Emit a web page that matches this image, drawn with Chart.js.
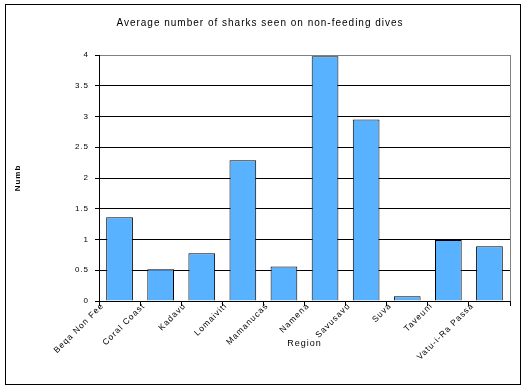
<!DOCTYPE html>
<html>
<head>
<meta charset="utf-8">
<script src="https://cdn.jsdelivr.net/npm/chart.js@4/dist/chart.umd.min.js"></script>
<style>
  html, body { margin: 0; padding: 0; background: #fff; }
  #wrap { width: 526px; height: 390px; position: relative; }
</style>
</head>
<body>
<div id="wrap"><canvas id="ctx" width="526" height="390"></canvas></div>
<script>
const regions = ["Beqa Non Fee", "Coral Coast", "Kadavu", "Lomaiviti", "Mamanucas", "Namena", "Savusavu", "Suva", "Taveuni", "Vatu-i-Ra Passa"];
const avgSharks = [1.36, 0.515, 0.775, 2.29, 0.56, 3.98, 2.95, 0.076, 0.99, 0.89];
const yTicks = [0, 0.5, 1, 1.5, 2, 2.5, 3, 3.5, 4];

const fontFam = "'Liberation Sans', Arial, sans-serif";

// frame round the whole picture + grey right edge of plot
const frame = {
  id: "frame",
  beforeDraw(chart) {
    chart.ctx.letterSpacing = "1px";
  },
  afterDraw(chart) {
    const c = chart.ctx, a = chart.chartArea;
    c.save();
    c.strokeStyle = "#808080";
    c.lineWidth = 1;
    c.beginPath();
    c.moveTo(Math.round(a.right) + 0.5, a.top);
    c.lineTo(Math.round(a.right) + 0.5, a.bottom);
    c.stroke();
    c.strokeStyle = "#000";
    c.strokeRect(5.5, 4.5, 515, 380);
    c.restore();
  }
};

const ctx = document.getElementById("ctx").getContext("2d");

new Chart(ctx, {
  type: "bar",
  data: {
    labels: regions,
    datasets: [{
      label: "Average",
      data: avgSharks,
      backgroundColor: "#59B2FF",
      borderColor: "#000",
      borderWidth: 1,
      barPercentage: 0.65,
      categoryPercentage: 1
    }]
  },
  options: {
    responsive: false,
    animation: false,
    layout: { padding: { left: 10, right: 16, top: 0, bottom: 0 } },
    plugins: {
      legend: { display: false },
      tooltip: { enabled: false },
      title: {
        display: true,
        text: "Average number of sharks seen on non-feeding dives",
        color: "#000",
        font: { family: fontFam, size: 10, weight: "normal", lineHeight: 1.2 },
        padding: { top: 17, bottom: 26 }
      }
    },
    scales: {
      x: {
        afterFit: (s) => { s.height = 89; },
        grid: { offset: true, drawOnChartArea: false, drawTicks: true, tickLength: 5, color: "#000" },
        border: { color: "#000", width: 1 },
        ticks: {
          color: "#000",
          font: { family: fontFam, size: 8.5 },
          maxRotation: 45,
          minRotation: 45,
          autoSkip: false,
          labelOffset: -17,
          padding: -5
        },
        title: {
          display: true,
          text: "Region",
          color: "#000",
          font: { family: fontFam, size: 9 },
          padding: { top: 4, bottom: 41 }
        }
      },
      y: {
        min: 0,
        max: 4,
        afterFit: (s) => { s.width = 89; },
        afterBuildTicks: (s) => { s.ticks = yTicks.map(v => ({ value: v })); },
        grid: {
          color: (c) => c.tick && c.tick.value === 4 ? "#808080" : "#000",
          tickLength: 4,
          tickColor: "#000"
        },
        border: { color: "#000", width: 1 },
        ticks: {
          color: "#000",
          font: { family: fontFam, size: 8 },
          padding: 6,
          callback: (v) => String(v)
        },
        title: {
          display: true,
          text: "Numb",
          color: "#000",
          font: { family: fontFam, size: 8, weight: "bold" },
          padding: 3
        }
      }
    }
  },
  plugins: [frame]
});
</script>
</body>
</html>
